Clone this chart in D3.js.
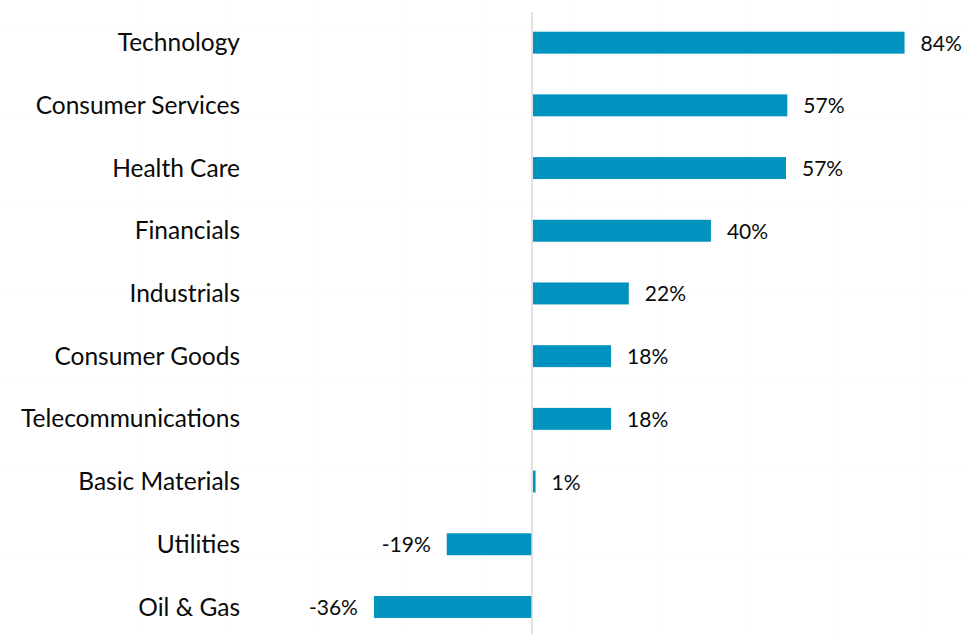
<!DOCTYPE html>
<html>
<head>
<meta charset="utf-8">
<script src="https://cdn.jsdelivr.net/npm/d3@7/dist/d3.min.js"></script>
<style>
  html, body { margin: 0; padding: 0; background: #fff; }
  svg { display: block; }
</style>
</head>
<body>
<svg id="chart"></svg>
<script>
const sectors = ['Technology', 'Consumer Services', 'Health Care', 'Financials', 'Industrials',
  'Consumer Goods', 'Telecommunications', 'Basic Materials', 'Utilities', 'Oil & Gas']
const returns = [83.9, 57.5, 57.2, 40.3, 21.8, 17.8, 17.8, 0.8, -19.2, -35.6]
const returnLabels = ['84%', '57%', '57%', '40%', '22%', '18%', '18%', '1%', '-19%', '-36%']

const width = 967
const height = 634
const svg = d3.select('#chart').attr('width', width).attr('height', height)

// faint background grid
const gridStep = 87.6
const grid = svg.append('g').attr('stroke', '#fbfbfb').attr('stroke-width', 1)
grid.selectAll('.gx').data(d3.range(-2, 9)).enter().append('line')
  .attr('x1', d => 312.7 + d * gridStep).attr('x2', d => 312.7 + d * gridStep)
  .attr('y1', 0).attr('y2', height)
grid.selectAll('.gy').data(d3.range(0, 8)).enter().append('line')
  .attr('x1', 0).attr('x2', width)
  .attr('y1', d => 556 - d * gridStep).attr('y2', d => 556 - d * gridStep)

const x = d3.scaleLinear().domain([0, 84]).range([532, 905])
const y = d3.scaleBand().domain(sectors).range([11.3, 638.3])
  .paddingInner(0.65).paddingOuter(0.325)

const rows = sectors.map((s, i) => ({ s, v: returns[i], t: returnLabels[i] }))

svg.append('g').selectAll('rect').data(rows).enter().append('rect')
  .attr('x', d => Math.min(x(0), x(d.v)) + (d.v > 0 ? 1 : 0))
  .attr('y', d => y(d.s))
  .attr('width', d => Math.max(1.5, Math.abs(x(d.v) - x(0)) - (d.v > 0 ? 1 : 0)))
  .attr('height', y.bandwidth())
  .attr('fill', '#0093bf')

// zero axis
svg.append('line')
  .attr('x1', x(0)).attr('x2', x(0))
  .attr('y1', 12).attr('y2', height)
  .attr('stroke', '#d9d9d9').attr('stroke-width', 1.5)

// category labels
svg.append('g').selectAll('text').data(rows).enter().append('text')
  .attr('x', 240)
  .attr('y', d => y(d.s) + y.bandwidth() / 2)
  .attr('dy', '0.35em')
  .attr('text-anchor', 'end')
  .attr('font-family', 'Lato, sans-serif')
  .attr('font-size', 24.5)
  .attr('fill', '#0a0a0a')
  .text(d => d.s)

// value labels
svg.append('g').selectAll('text').data(rows).enter().append('text')
  .attr('x', d => d.v >= 0 ? x(d.v) + 16 : x(d.v) - 16)
  .attr('y', d => y(d.s) + y.bandwidth() / 2)
  .attr('dy', '0.38em')
  .attr('text-anchor', d => d.v >= 0 ? 'start' : 'end')
  .attr('font-family', 'Lato, sans-serif')
  .attr('font-size', 21)
  .attr('fill', '#0a0a0a')
  .text(d => d.t)
</script>
</body>
</html>
